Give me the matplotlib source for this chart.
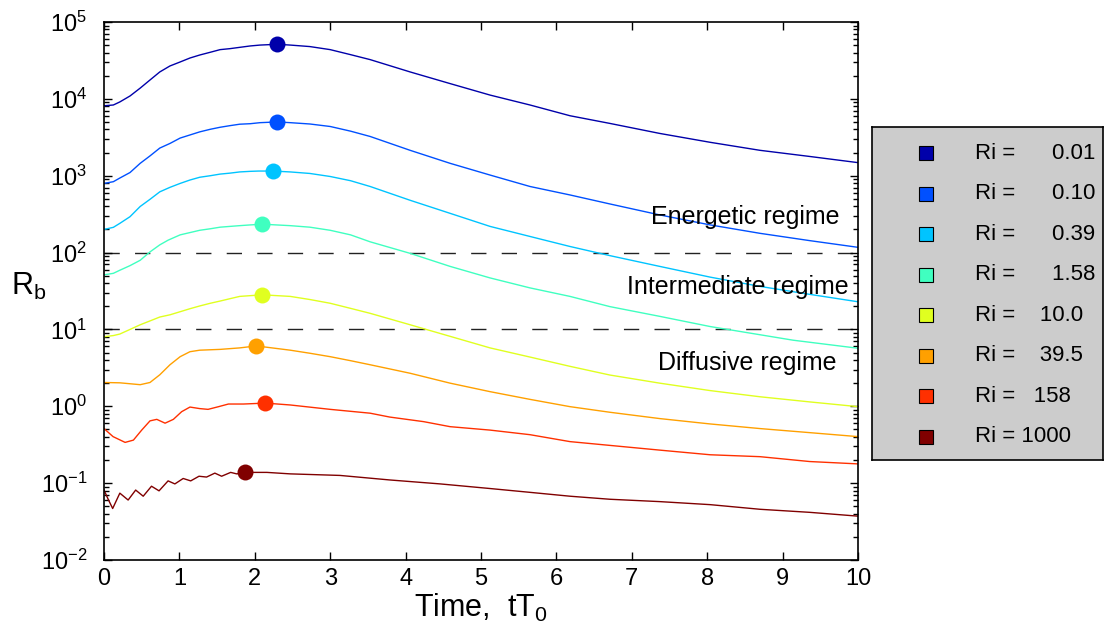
import numpy as np
import matplotlib
matplotlib.use('Agg')
import matplotlib.pyplot as plt
from matplotlib.ticker import LogLocator, NullFormatter

plt.rcParams['font.family'] = ['Liberation Sans', 'DejaVu Sans']
plt.rcParams['mathtext.fontset'] = 'custom'
plt.rcParams['mathtext.rm'] = 'Liberation Sans'
plt.rcParams['mathtext.it'] = 'Liberation Sans:italic'
plt.rcParams['mathtext.default'] = 'regular'

# Richardson numbers and colours
ri_labels = ['0.01', '0.10', '0.39', '1.58', '10.0', '39.5', '158', '1000']
ri_text = ['Ri =      0.01', 'Ri =      0.10', 'Ri =      0.39', 'Ri =      1.58',
           'Ri =    10.0', 'Ri =    39.5', 'Ri =   158', 'Ri = 1000']
colors = ['#0000AA', '#0050FF', '#00C4FF', '#40FFC0', '#E0FF20', '#FFA000', '#FF3000', '#800000']

# R_b(t) curves
t1 = [0, 0.124, 0.21, 0.345, 0.48, 0.61, 0.74, 0.875, 1.01, 1.14, 1.27, 1.41, 1.54, 1.67, 1.80, 1.94, 2.07,
      2.30, 2.47, 2.73, 3.0, 3.27, 3.53, 4.06, 4.59, 5.12, 5.65, 6.18, 6.71, 7.37, 8.04, 8.70, 9.36, 10]
r1 = [8130, 8320, 9120, 10900, 13800, 17600, 22400, 26800, 30200, 34000, 37200, 40400, 43700, 45000, 46800,
      48800, 50100, 51300, 50100, 47900, 43700, 37600, 32400, 22400, 15800, 11200, 8320, 6030, 4790, 3550,
      2720, 2140, 1780, 1480]

t2 = [0, 0.124, 0.21, 0.345, 0.48, 0.61, 0.74, 0.875, 1.01, 1.14, 1.27, 1.41, 1.54, 1.67, 1.80, 1.94, 2.07,
      2.30, 2.47, 2.73, 3.0, 3.27, 3.53, 4.06, 4.59, 5.12, 5.65, 6.18, 6.71, 7.37, 8.04, 8.70, 9.36, 10]
r2 = [794, 836, 933, 1100, 1450, 1810, 2290, 2630, 3090, 3390, 3720, 4020, 4270, 4480, 4680, 4750, 4900,
      5010, 4900, 4710, 4370, 3800, 3240, 2140, 1450, 1020, 724, 562, 429, 309, 229, 178, 143, 117]

t3 = [0, 0.124, 0.21, 0.345, 0.48, 0.61, 0.74, 0.875, 1.01, 1.14, 1.27, 1.41, 1.54, 1.67, 1.80, 1.94, 2.05,
      2.24, 2.47, 2.73, 3.0, 3.27, 3.53, 4.06, 4.59, 5.12, 5.65, 6.18, 6.71, 7.37, 8.04, 8.70, 9.36, 10]
r3 = [200, 213, 240, 293, 398, 493, 617, 706, 794, 879, 955, 1000, 1050, 1080, 1120, 1140, 1150, 1150, 1120,
      1070, 977, 861, 724, 479, 324, 219, 162, 120, 91.2, 66.1, 47.9, 36.3, 28.6, 22.9]

t4 = [0, 0.124, 0.21, 0.345, 0.48, 0.61, 0.74, 0.85, 1.01, 1.14, 1.27, 1.41, 1.54, 1.67, 1.80, 1.94, 2.10,
      2.47, 2.73, 3.0, 3.27, 3.53, 4.06, 4.59, 5.12, 5.65, 6.18, 6.71, 7.37, 8.04, 9.14, 10]
r4 = [51.3, 53.7, 58.9, 67.6, 79.4, 102, 126, 145, 170, 182, 195, 204, 214, 219, 224, 229, 234, 224, 214,
      195, 170, 138, 97.7, 66.1, 46.8, 34.7, 26.9, 19.8, 14.8, 10.9, 7.24, 5.69]

t5 = [0, 0.124, 0.21, 0.345, 0.48, 0.61, 0.74, 0.875, 1.01, 1.14, 1.27, 1.41, 1.54, 1.67, 1.80, 1.94, 2.10,
      2.47, 2.73, 3.0, 3.27, 3.53, 4.06, 4.59, 5.12, 5.65, 6.18, 6.71, 7.37, 8.04, 8.70, 9.36, 10]
r5 = [8.04, 8.32, 8.71, 10.0, 11.5, 12.9, 14.5, 15.5, 17.0, 18.6, 20.2, 21.9, 23.4, 25.1, 26.9, 27.5, 28.2,
      26.9, 24.5, 21.9, 18.8, 16.2, 11.5, 8.13, 5.75, 4.37, 3.31, 2.55, 2.00, 1.60, 1.33, 1.14, 0.989]

t6 = [0, 0.21, 0.48, 0.61, 0.74, 0.875, 1.01, 1.14, 1.27, 1.54, 1.80, 2.02, 2.47, 2.73, 3.0, 3.27, 3.53,
      4.06, 4.59, 5.12, 5.65, 6.18, 6.71, 7.37, 8.04, 8.70, 9.36, 10]
r6 = [2.04, 2.02, 1.91, 2.04, 2.57, 3.47, 4.42, 5.13, 5.37, 5.50, 5.75, 6.10, 5.37, 4.90, 4.42, 3.92, 3.47,
      2.69, 2.00, 1.55, 1.23, 0.989, 0.836, 0.692, 0.589, 0.513, 0.454, 0.403]

t7 = [0, 0.12, 0.28, 0.39, 0.50, 0.61, 0.70, 0.81, 0.92, 1.03, 1.14, 1.27, 1.38, 1.52, 1.65, 1.85, 2.14, 2.47,
      3.0, 3.53, 3.79, 4.24, 4.59, 5.12, 5.65, 6.18, 7.37, 8.04, 8.70, 9.36, 10]
r7 = [0.513, 0.403, 0.339, 0.363, 0.490, 0.646, 0.676, 0.603, 0.676, 0.851, 0.977, 0.933, 0.912, 0.989, 1.07,
      1.07, 1.10, 1.04, 0.912, 0.813, 0.724, 0.631, 0.543, 0.490, 0.427, 0.347, 0.269, 0.234, 0.221, 0.191, 0.178]

t8 = [0, 0.06, 0.115, 0.21, 0.32, 0.42, 0.52, 0.63, 0.73, 0.85, 0.94, 1.05, 1.15, 1.26, 1.36, 1.47, 1.56, 1.68,
      1.76, 1.87, 2.16, 2.47, 3.13, 3.79, 4.46, 5.12, 5.65, 6.18, 6.71, 7.37, 8.04, 8.70, 9.36, 10]
r8 = [0.0813, 0.0603, 0.0468, 0.0741, 0.0603, 0.0813, 0.0676, 0.0912, 0.0794, 0.107, 0.0977, 0.115, 0.107,
      0.123, 0.120, 0.135, 0.123, 0.138, 0.132, 0.138, 0.138, 0.132, 0.126, 0.110, 0.0977, 0.0851, 0.0759,
      0.0676, 0.0617, 0.0575, 0.0525, 0.0457, 0.0417, 0.0372]

# maxima marked with dots
peak_t = [2.30, 2.30, 2.24, 2.10, 2.10, 2.02, 2.14, 1.87]
peak_r = [51300, 5010, 1150, 234, 28.2, 6.10, 1.10, 0.138]

regime_bounds = [100, 10]
regime_labels = ['Energetic regime', 'Intermediate regime', 'Diffusive regime']
regime_x = [9.76, 9.87, 9.72]
regime_y = [293, 36, 3.63]

times = [t1, t2, t3, t4, t5, t6, t7, t8]
curves = [r1, r2, r3, r4, r5, r6, r7, r8]

fig = plt.figure(figsize=(11.05, 6.4), dpi=100)
ax = fig.add_axes([104/1105, 80/640, 754/1105, 538/640])

for b in regime_bounds:
    ax.axhline(b, color='#222222', linewidth=1.0, dashes=(11, 11), zorder=1)

for t, r, c in zip(times, curves, colors):
    ax.plot(t, r, color=c, linewidth=1.0, zorder=2)

for pt, pr, c in zip(peak_t, peak_r, colors):
    ax.plot(pt, pr, 'o', color=c, markersize=11.5, markeredgewidth=0, zorder=3)

for lab, x, y in zip(regime_labels, regime_x, regime_y):
    ax.text(x, y, lab, ha='right', va='center', fontsize=18, zorder=4)

ax.set_yscale('log')
ax.set_xlim(0, 10)
ax.set_ylim(1e-2, 1e5)
ax.set_xticks(range(0, 11))
ax.yaxis.set_major_locator(LogLocator(base=10, numticks=20))
ax.yaxis.set_minor_locator(LogLocator(base=10, subs=np.arange(2, 10), numticks=100))
ax.yaxis.set_minor_formatter(NullFormatter())
ax.tick_params(which='both', direction='in', top=True, right=True, width=1.0, labelsize=17)
ax.tick_params(which='major', length=6)
ax.tick_params(which='minor', length=3.5)
ax.tick_params(axis='y', pad=12)
ax.tick_params(axis='x', pad=6)
for s in ax.spines.values():
    s.set_linewidth(1.2)

ax.set_xlabel('Time,  tT$_0$', fontsize=22, labelpad=1)
ax.set_ylabel('R$_\\mathrm{b}$', fontsize=22, rotation=0, labelpad=0)
ax.yaxis.set_label_coords(-0.1, 0.48)

# legend panel
lax = fig.add_axes([872/1105, 180/640, 231/1105, 333/640])
lax.set_facecolor('#CCCCCC')
lax.set_xlim(0, 1)
lax.set_ylim(0, 1)
lax.set_xticks([])
lax.set_yticks([])
for s in lax.spines.values():
    s.set_linewidth(1.2)
rows = np.linspace(0.921, 0.070, len(ri_labels))
for yy, c, txt in zip(rows, colors, ri_text):
    lax.plot(0.234, yy, 's', color=c, markersize=10, markeredgecolor='k', markeredgewidth=0.8)
    lax.text(0.446, yy, txt, ha='left', va='center', fontsize=16)

fig.savefig('out.png', dpi=100)
